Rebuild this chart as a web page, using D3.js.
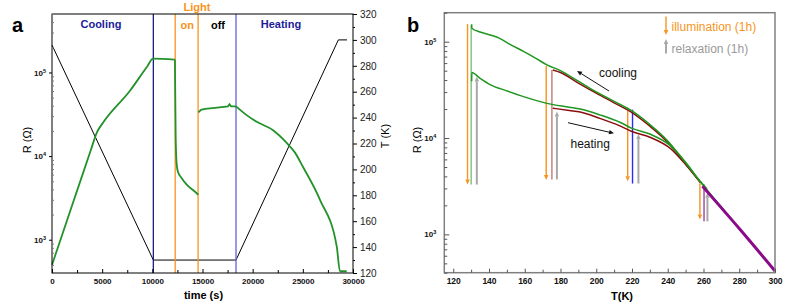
<!DOCTYPE html>
<html>
<head>
<meta charset="utf-8">
<script src="https://cdn.jsdelivr.net/npm/d3@7"></script>
<style>
body { margin: 0; background: #fff; }
svg { display: block; font-family: Arial, "Liberation Sans", sans-serif; }
</style>
</head>
<body>
<svg id="chart" width="789" height="306"></svg>
<script>
// ---------- panel a : resistance + temperature vs time ----------
const tempTime = [0, 10100, 18340, 28540, 29400];
const tempK = [296, 130, 130, 300, 300];

const coolTime = [0, 2000, 3880, 4455, 5080, 7770, 9470, 10070, 12250];
const coolR = [500, 2560, 11900, 19000, 25000, 60400, 117000, 146000, 142000];
const lightTime = [12250, 12290, 12330, 12430, 12560, 12930, 13430, 14080, 14580];
const lightR = [142000, 47200, 15700, 7900, 6450, 5450, 4550, 3900, 3450];
const offTime = [14590, 14850, 15250, 16250, 17540, 17690, 17840, 18340];
const offR = [33300, 35800, 36800, 37800, 39400, 41700, 39400, 39300];
const heatTime = [18340, 19400, 20400, 22030, 23390, 24220, 25020, 26710, 28380, 28700, 29370];
const heatR = [39300, 30900, 25700, 20400, 14400, 11000, 7400, 3000, 830, 420, 420];

// stage boundaries: cooling end, light on, light off, heating start
const stageTime = [10100, 12280, 14560, 18340];

const timeTicks = [0, 5000, 10000, 15000, 20000, 25000, 30000];
const tempTicks = [120, 140, 160, 180, 200, 220, 240, 260, 280, 300, 320];

// ---------- panel b : R vs T ----------
const coolT1 = [130.3, 130.4, 135, 140.6, 146, 152, 159.3, 166, 172.4, 180, 190, 200, 210, 220, 230, 240, 250, 258.4, 270, 280, 300];
const coolR1 = [151400, 138000, 125900, 117500, 108400, 93300, 79400, 67600, 57500, 50100, 38900, 30200, 24000, 19100, 13800, 9330, 5500, 3470, 1920, 1150, 417];
const heatT1 = [130.3, 130.4, 135, 140.6, 150, 159.3, 172.4, 185, 191, 202, 213.5, 220, 230, 241.6, 250, 258.4, 262];
const heatR1 = [38900, 47900, 41700, 35900, 30900, 26900, 22900, 20900, 20000, 17400, 14500, 12600, 11000, 8300, 5600, 3510, 2950];
const coolT2 = [175.7, 180, 190, 200, 210, 220, 230, 240, 250, 258.4];
const coolR2 = [50900, 47900, 37200, 29200, 23200, 18400, 13300, 9020, 5370, 3430];
const heatT2 = [175.7, 185, 191, 202, 213.5, 220, 230, 241.6, 250, 258.4];
const heatR2 = [20400, 19300, 18600, 16000, 13300, 11700, 10200, 7760, 5310, 3430];
const highT = [259.4, 280, 300];
const highR = [3160, 1150, 417];

// vertical steps
const illumT = [128.0, 172.0, 217.6, 258.0];
const illumFrom = [152400, 56100, 19200, 3370];
const illumTo = [3290, 3660, 3560, 1430];
const relaxT = [133.2, 178.0, 223.6, 262.2];
const relaxFrom = [3290, 3720, 3370, 1365];
const relaxTo = [43600, 18900, 11000, 2700];
const runT = [130.0, 175.2, 220.3, 260.3];
const runTop = [148600, 50900, 19700, 3300];
const runBottom = [3290, 3720, 3370, 1365];

const tKTicks = [120, 140, 160, 180, 200, 220, 240, 260, 280, 300];
const decadeTicks = [1e3, 1e4, 1e5];

const svg = d3.select('#chart');

function logMinors(lo, hi) {
    const out = [];
    for (let e = 2; e <= 5; e++) {
        for (let m = 2; m <= 9; m++) {
            const v = m * Math.pow(10, e);
            if (v >= lo && v <= hi) out.push(v);
        }
    }
    return out;
}

function styleAxis(g, color, size, weight) {
    g.select('.domain').remove();
    g.selectAll('.tick line').attr('stroke', color);
    g.selectAll('.tick text').attr('fill', '#111').attr('font-size', size).attr('font-weight', weight)
        .attr('font-family', 'Arial, "Liberation Sans", sans-serif');
}

function powerLabels(g) {
    g.selectAll('.tick text').each(function(d) {
        const t = d3.select(this);
        t.text('');
        t.append('tspan').text('10');
        t.append('tspan').attr('dy', '-0.55em').attr('font-size', '5.5px').text(Math.round(Math.log10(d)));
    });
}

function arrow(g, x1, y1, x2, y2, color, w, head) {
    const a = Math.atan2(y2 - y1, x2 - x1);
    const bx = x2 - head * Math.cos(a), by = y2 - head * Math.sin(a);
    g.append('line').attr('x1', x1).attr('y1', y1).attr('x2', bx).attr('y2', by)
        .attr('stroke', color).attr('stroke-width', w);
    const px = -Math.sin(a) * head * 0.45, py = Math.cos(a) * head * 0.45;
    g.append('path')
        .attr('d', `M${x2},${y2}L${bx + px},${by + py}L${bx - px},${by - py}Z`)
        .attr('fill', color);
}

// ================= panel a =================
const A = { l: 52, r: 353, t: 14, b: 273 };
const xa = d3.scaleLinear().domain([0, 30000]).range([A.l, A.r]);
const ya = d3.scaleLog().domain([400, 5e5]).range([A.b, A.t]);
const yt = d3.scaleLinear().domain([120, 320]).range([A.b, A.t]);
const ga = svg.append('g');

// temperature line
const tempLine = d3.line().x((d, i) => xa(tempTime[i])).y(d => yt(d));
ga.append('path').attr('d', tempLine(tempK)).attr('fill', 'none').attr('stroke', '#000').attr('stroke-width', 1);

// stage boundary lines
const stageColor = ['#1c1c8a', '#f7941d', '#f7941d', '#6262d8'];
ga.selectAll('.stage').data(stageTime).enter().append('line')
    .attr('x1', d => xa(d)).attr('x2', d => xa(d))
    .attr('y1', A.t).attr('y2', A.b)
    .attr('stroke', (d, i) => stageColor[i]).attr('stroke-width', 1.3);

// resistance segments
const segs = [
    [coolTime, coolR, d3.curveMonotoneX],
    [lightTime, lightR, d3.curveMonotoneX],
    [offTime, offR, d3.curveLinear],
    [heatTime, heatR, d3.curveMonotoneX]
];
segs.forEach(([ts, rs, cv]) => {
    const line = d3.line().x((d, i) => xa(ts[i])).y(d => ya(d)).curve(cv);
    ga.append('path').attr('d', line(rs)).attr('fill', 'none')
        .attr('stroke', '#23922a').attr('stroke-width', 1.8);
});

// frame
ga.append('rect').attr('x', A.l).attr('y', A.t).attr('width', A.r - A.l).attr('height', A.b - A.t)
    .attr('fill', 'none').attr('stroke', '#000').attr('stroke-width', 1);

// axes
const axA = ga.append('g').attr('transform', `translate(0,${A.b})`)
    .call(d3.axisBottom(xa).tickValues(timeTicks).tickSize(-4).tickPadding(5).tickFormat(d3.format('d')));
styleAxis(axA, '#000', '8px', 'bold');
const axAm = ga.append('g').attr('transform', `translate(0,${A.b})`)
    .call(d3.axisBottom(xa).tickValues(timeTicks.slice(0, -1).map(d => d + 2500)).tickSize(-3).tickFormat(''));
styleAxis(axAm, '#000', '8px', 'bold');

const ayA = ga.append('g').attr('transform', `translate(${A.l},0)`)
    .call(d3.axisLeft(ya).tickValues(decadeTicks).tickSize(3).tickPadding(3));
styleAxis(ayA, '#000', '8px', 'bold');
powerLabels(ayA);
const ayAm = ga.append('g').attr('transform', `translate(${A.l},0)`)
    .call(d3.axisLeft(ya).tickValues(logMinors(400, 5e5)).tickSize(-2).tickFormat(''));
styleAxis(ayAm, '#777', '8px', 'bold');

const ayT = ga.append('g').attr('transform', `translate(${A.r},0)`)
    .call(d3.axisRight(yt).tickValues(tempTicks).tickSize(4).tickPadding(3));
styleAxis(ayT, '#000', '10px', 'normal');
ayT.selectAll('.tick text').attr('fill', '#222');
const ayTm = ga.append('g').attr('transform', `translate(${A.r},0)`)
    .call(d3.axisRight(yt).tickValues(tempTicks.slice(0, -1).map(d => d + 10)).tickSize(2).tickFormat(''));
styleAxis(ayTm, '#000', '10px', 'normal');

// labels
ga.append('text').attr('x', 12).attr('y', 32).attr('font-size', '20px').attr('font-weight', 'bold').text('a');
ga.append('text').attr('x', (A.l + A.r) / 2 + 1).attr('y', 299).attr('text-anchor', 'middle')
    .attr('font-size', '11px').attr('font-weight', 'bold').text('time (s)');
ga.append('text').attr('transform', 'translate(31,140) rotate(-90)').attr('text-anchor', 'middle')
    .attr('font-size', '11px').text('R (\u03A9)');
ga.append('text').attr('transform', 'translate(389,136) rotate(-90)').attr('text-anchor', 'middle')
    .attr('font-size', '11px').text('T (K)');

const stageLabels = [
    { t: 4880, y: 28, text: 'Cooling', color: '#1c1c9a' },
    { t: 14450, y: 10.5, text: 'Light', color: '#f7941d' },
    { t: 13480, y: 29, text: 'on', color: '#f7941d' },
    { t: 16540, y: 29, text: 'off', color: '#000' },
    { t: 22820, y: 28, text: 'Heating', color: '#1c1c9a' }
];
ga.selectAll('.stagelab').data(stageLabels).enter().append('text')
    .attr('x', d => xa(d.t)).attr('y', d => d.y).attr('text-anchor', 'middle')
    .attr('font-size', '11px').attr('font-weight', 'bold').attr('fill', d => d.color)
    .text(d => d.text);

// ================= panel b =================
const B = { l: 444.3, r: 775, t: 12.7, b: 272.7 };
const xb = d3.scaleLinear().domain([115, 300]).range([B.l, B.r]);
const yb = d3.scaleLog().domain([400, 2e5]).range([B.b, B.t]);
const gb = svg.append('g');

const curveB = (ts) => d3.line().x((d, i) => xb(ts[i])).y(d => yb(d)).curve(d3.curveMonotoneX);

// vertical run markers
const runColor = ['#46a846', '#c47878', '#2a2aff', '#a040a0'];
runT.forEach((t, i) => {
    gb.append('line').attr('x1', xb(t)).attr('x2', xb(t)).attr('y1', yb(runTop[i])).attr('y2', yb(runBottom[i]))
        .attr('stroke', runColor[i]).attr('stroke-width', i === 0 ? 1 : 1.4);
});
// illumination (down) and relaxation (up)
illumT.forEach((t, i) => {
    arrow(gb, xb(t), yb(illumFrom[i]), xb(t), yb(illumTo[i]), '#f7941d', 1.4, 5);
});
relaxT.forEach((t, i) => {
    arrow(gb, xb(t), yb(relaxFrom[i]), xb(t), yb(relaxTo[i]), '#a8a8a8', 2, 5);
});

// curves
gb.append('path').attr('d', curveB(coolT2)(coolR2)).attr('fill', 'none').attr('stroke', '#8b0d0d').attr('stroke-width', 1.5);
gb.append('path').attr('d', curveB(heatT2)(heatR2)).attr('fill', 'none').attr('stroke', '#8b0d0d').attr('stroke-width', 1.5);
gb.append('path').attr('d', curveB(coolT1)(coolR1)).attr('fill', 'none').attr('stroke', '#1f961f').attr('stroke-width', 1.5);
gb.append('path').attr('d', curveB(heatT1)(heatR1)).attr('fill', 'none').attr('stroke', '#1f961f').attr('stroke-width', 1.5);
gb.append('path').attr('d', curveB(highT)(highR)).attr('fill', 'none').attr('stroke', '#8a0a8a').attr('stroke-width', 3);

// frame
gb.append('rect').attr('x', B.l).attr('y', B.t).attr('width', B.r - B.l).attr('height', B.b - B.t)
    .attr('fill', 'none').attr('stroke', '#808080').attr('stroke-width', 1.5);

const axB = gb.append('g').attr('transform', `translate(0,${B.b})`)
    .call(d3.axisBottom(xb).tickValues(tKTicks).tickSize(-4).tickPadding(5));
styleAxis(axB, '#555', '8.5px', 'bold');
const axBm = gb.append('g').attr('transform', `translate(0,${B.b})`)
    .call(d3.axisBottom(xb).tickValues(tKTicks.slice(0, -1).map(d => d + 10)).tickSize(-3).tickFormat(''));
styleAxis(axBm, '#555', '8px', 'bold');

const ayB = gb.append('g').attr('transform', `translate(${B.l},0)`)
    .call(d3.axisLeft(yb).tickValues(decadeTicks).tickSize(-5).tickPadding(8));
styleAxis(ayB, '#555', '8px', 'bold');
powerLabels(ayB);
const ayBm = gb.append('g').attr('transform', `translate(${B.l},0)`)
    .call(d3.axisLeft(yb).tickValues(logMinors(400, 2e5)).tickSize(-3).tickFormat(''));
styleAxis(ayBm, '#555', '8px', 'bold');

gb.append('text').attr('x', 407).attr('y', 32).attr('font-size', '20px').attr('font-weight', 'bold').text('b');
gb.append('text').attr('x', 622).attr('y', 300).attr('text-anchor', 'middle')
    .attr('font-size', '11px').attr('font-weight', 'bold').text('T(K)');
gb.append('text').attr('transform', 'translate(421,140) rotate(-90)').attr('text-anchor', 'middle')
    .attr('font-size', '11px').text('R (\u03A9)');

// annotations
arrow(gb, 609, 91, 577, 71, '#111', 1, 5);
gb.append('text').attr('x', 599).attr('y', 76.5).attr('font-size', '12px').attr('fill', '#111').text('cooling');
arrow(gb, 568, 122.7, 614, 133.3, '#111', 1, 5);
gb.append('text').attr('x', 570.5).attr('y', 147.5).attr('font-size', '12px').attr('fill', '#111').text('heating');

// legend
arrow(gb, 666, 16.5, 666, 35, '#f7941d', 1.4, 5);
gb.append('text').attr('x', 671.5).attr('y', 31).attr('font-size', '12px').attr('fill', '#f7941d').text('illumination (1h)');
arrow(gb, 666, 53.5, 666, 39, '#a8a8a8', 2, 5);
gb.append('text').attr('x', 671.5).attr('y', 53).attr('font-size', '12px').attr('fill', '#9a9a9a').text('relaxation (1h)');
</script>
</body>
</html>
